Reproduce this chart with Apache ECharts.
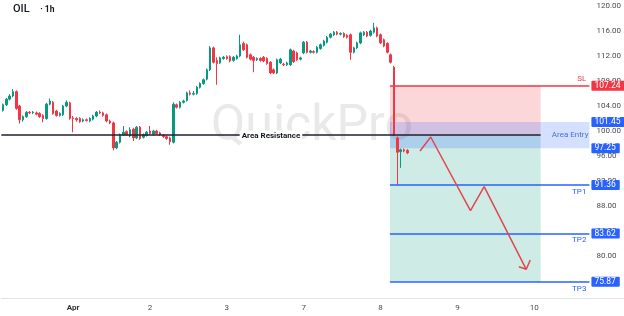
<!DOCTYPE html>
<html><head><meta charset="utf-8">
<script src="https://cdn.jsdelivr.net/npm/echarts@6.0.0/dist/echarts.min.js"></script>
<style>html,body{margin:0;padding:0;background:#fff;}#c{width:624px;height:316px;}</style>
</head><body><div id="c"></div>
<script>
// ---- data ----
const dayLabels = ['Apr','2','3','7','8','9','10'];
const dayLabelSlots = [21,44,67,90,113,136,159];
const slotCount = 176;

const open = [103.3,104.2,105.1,105.6,106.3,104.0,101.8,102.3,103.0,102.9,
102.9,102.8,102.5,102.0,104.3,104.6,103.2,102.5,102.6,104.0,
104.5,102.1,102.0,102.0,101.6,101.8,101.6,101.9,102.4,103.0,
102.9,102.6,101.6,101.3,97.3,98.2,99.4,99.9,99.2,100.3,
98.9,100.6,99.0,99.3,100.0,99.5,100.0,99.7,99.3,99.1,
98.9,98.2,104.2,103.8,104.6,104.9,106.1,105.9,106.0,107.0,
107.6,108.3,109.8,113.3,111.3,110.9,111.6,111.9,111.9,111.3,
111.6,112.0,114.0,113.8,112.2,111.8,111.4,111.6,111.8,111.6,
111.0,109.8,109.3,110.9,110.7,110.6,110.6,112.8,112.5,111.5,
112.5,114.2,112.6,112.7,112.6,113.2,113.7,114.2,115.0,115.4,
115.8,115.5,115.6,115.3,115.4,112.6,113.3,114.1,115.4,115.8,
115.3,115.8,116.5,115.4,114.6,114.0,112.2,110.2,98.9,96.7,
97.0,96.9];
const close = [104.2,105.1,105.6,106.3,103.6,101.8,102.3,103.0,102.9,103.0,
102.7,102.3,102.0,104.3,104.8,102.8,102.5,102.8,104.0,104.6,
102.0,102.0,101.8,101.5,101.8,101.7,102.0,102.4,103.0,102.9,
102.5,101.6,101.3,97.3,98.2,99.4,99.8,99.4,100.2,98.9,
100.6,98.8,99.4,99.8,99.6,100.0,99.6,99.4,99.1,98.8,
98.3,104.3,103.8,104.6,104.8,106.1,105.9,106.0,107.0,107.6,
108.2,109.8,113.3,111.0,110.8,111.7,111.8,111.6,111.2,111.8,
112.0,113.8,113.0,111.8,111.5,111.3,111.6,111.3,111.2,110.8,
109.3,109.3,111.4,111.5,110.6,110.9,113.0,111.1,111.4,111.7,
114.2,112.6,112.8,112.6,113.4,113.8,114.4,115.0,115.5,115.8,
115.5,115.6,115.1,115.0,112.6,113.3,114.1,115.7,115.8,115.2,
116.0,116.5,115.2,114.1,113.6,112.6,111.0,99.4,96.6,97.0,
96.8,96.5];
const low = [103.1,104.0,104.9,105.4,103.4,101.2,101.5,102.1,102.7,102.7,
102.5,102.1,101.4,101.8,104.1,102.6,102.3,102.3,102.4,103.8,
101.8,99.8,101.5,101.3,101.4,101.5,101.4,101.7,102.2,102.7,
102.3,101.4,101.1,96.9,97.1,98.0,99.2,99.2,99.0,98.4,
98.7,98.6,98.8,99.1,99.4,99.3,99.4,99.2,98.9,98.6,
97.8,98.0,103.6,103.6,104.4,104.7,105.7,105.7,105.8,106.8,
107.4,108.1,109.6,110.8,107.4,110.7,111.4,111.4,111.0,111.1,
111.4,111.8,112.8,111.6,111.3,109.4,111.2,111.1,111.0,110.6,
109.1,109.1,109.1,110.7,110.4,110.4,110.4,110.9,111.2,111.3,
112.3,112.4,112.4,112.4,112.4,113.0,113.5,114.0,114.8,115.2,
115.3,115.3,114.9,114.8,111.4,112.4,113.1,113.9,115.2,115.0,
115.1,115.6,115.0,113.9,113.4,112.4,110.8,99.2,91.4,94.1,
96.6,96.3];
const high = [104.4,105.3,105.9,106.7,106.5,104.2,102.5,103.2,103.2,103.2,
103.1,103.0,102.7,104.5,105.2,104.8,103.4,103.0,104.2,104.9,
104.7,102.4,102.2,102.2,102.0,102.0,102.2,102.6,103.2,103.3,
103.1,102.8,101.8,101.5,98.4,99.6,100.8,100.1,100.6,100.5,
100.8,100.8,99.6,100.0,100.8,100.2,100.2,99.9,99.5,99.3,
99.1,104.6,104.4,104.8,105.0,106.3,106.5,106.4,107.2,107.8,
108.4,110.0,113.6,113.5,111.8,111.9,112.0,112.1,112.1,112.0,
112.2,115.4,114.3,114.0,112.4,112.0,111.8,111.8,112.0,111.8,
111.2,110.0,111.6,111.7,110.9,111.1,113.2,113.0,112.7,111.9,
114.4,114.4,113.0,112.9,113.6,114.0,114.6,115.2,115.7,116.0,
116.0,115.8,115.8,115.5,115.6,113.5,114.3,115.9,116.0,116.0,
116.2,117.3,116.7,115.6,114.8,114.2,112.4,110.4,99.1,97.2,
97.2,97.1];

const yMin = 72, yMax = 120.96, yInterval = 4;
const resistanceLevel = 99.35;
const entryLevel = 99.35;
const slLevel = 107.24;
const entryTop = 101.45, entryBottom = 97.25;
const tpLevels = [91.36, 83.62, 75.87];
const tpNames = ['TP1','TP2','TP3'];
const zoneStartSlot = 116.3, zoneEndSlot = 161.4;
const arrowX = [125.3,128.5,140.4,144.5,157.1];
const arrowY = [96.8,99.04,87.25,91.09,77.87];
const arrowHeadX = [154.9,157.1,158.3];
const arrowHeadY = [78.29,77.87,79.36];

// ---- build ----
const cats = Array.from({length: slotCount}, () => '');
dayLabelSlots.forEach((s, k) => { cats[s] = dayLabels[k]; });
const candles = open.map((o, i) => [o, close[i], low[i], high[i]]);

const UP = '#089981', DOWN = '#f23645', BLUE = '#2962ff', FONT = 'Roboto, "Noto Sans", sans-serif';

function seg(x1, x2, y, lineStyle, label) {
  return [{coord: [x1, y], lineStyle: lineStyle, label: label}, {coord: [x2, y]}];
}
function box(y, bg) {
  return seg(zoneStartSlot, slotCount, y, {color: 'rgba(0,0,0,0)', width: 1}, {
    show: true, position: 'end', distance: 2, formatter: y.toFixed(2),
    color: '#fff', backgroundColor: bg, fontSize: 8.5, fontFamily: FONT,
    padding: [1, 4, 0, 3], borderRadius: 1
  });
}

const lines = [];
lines.push(seg(0, zoneEndSlot, resistanceLevel, {color: '#1e222d', width: 1.5, type: 'solid'}, {
  show: true, position: 'middle', distance: -5.5, formatter: 'Area Resistance', color: '#131722',
  fontWeight: 'bold', fontSize: 8, fontFamily: FONT, backgroundColor: '#fff', padding: [1, 2]
}));
lines.push(seg(zoneStartSlot, slotCount, slLevel, {color: DOWN, width: 1.5, type: 'solid'}, {
  show: true, position: 'insideEndTop', formatter: 'SL', color: DOWN, fontSize: 8, fontFamily: FONT, distance: 3
}));
tpLevels.forEach((v, k) => {
  lines.push(seg(zoneStartSlot, slotCount, v, {color: BLUE, width: 1.5, type: 'solid'}, {
    show: true, position: 'insideEndBottom', formatter: tpNames[k], color: BLUE, fontSize: 8, fontFamily: FONT, distance: 3
  }));
});
lines.push(box(slLevel, DOWN));
lines.push(box(entryTop, BLUE));
lines.push(box(entryBottom, BLUE));
tpLevels.forEach(v => lines.push(box(v, BLUE)));

const chart = echarts.init(document.getElementById('c'), null, {renderer: 'canvas'});
chart.setOption({
  animation: false,
  backgroundColor: '#fff',
  title: {
    left: 13, top: 4, padding: 0,
    text: '{a|OIL}{b|     · 1h}',
    textStyle: {rich: {
      a: {fontSize: 11, color: '#131722', fontFamily: FONT, fontWeight: 500},
      b: {fontSize: 8.5, color: '#131722', fontFamily: FONT}
    }}
  },
  graphic: [
    {type: 'text', z: -10, left: 'center', top: 102, style: {text: 'QuickPro', fontSize: 50, fontFamily: FONT, fill: '#e9e9e9'}},
    {type: 'line', z: 10, shape: {x1: 590, y1: 298.5, x2: 624, y2: 298.5}, style: {stroke: '#e0e3eb', lineWidth: 1}}
  ],
  grid: {left: 0, right: 34, top: 0, bottom: 10, containLabel: false},
  xAxis: [
    {type: 'category', data: cats, boundaryGap: true, offset: -8,
     axisLine: {lineStyle: {color: '#e0e3eb'}}, axisTick: {show: false}, splitLine: {show: false},
     axisLabel: {interval: 0, margin: 6, color: '#4a4a4a', fontSize: 8, fontFamily: FONT,
       formatter: v => v === 'Apr' ? '{m|Apr}' : v,
       rich: {m: {fontWeight: 'bold', fontSize: 8, color: '#333', fontFamily: FONT}}}},
    {type: 'value', min: 0, max: slotCount, show: false}
  ],
  yAxis: {type: 'value', position: 'right', min: yMin, max: yMax, interval: yInterval, scale: true,
    axisLine: {show: false}, axisTick: {show: false}, splitLine: {show: false},
    axisLabel: {margin: 7, color: '#4a4a4a', fontSize: 8, fontFamily: FONT,
      formatter: v => (Math.abs(v / 4 - Math.round(v / 4)) < 1e-6 && v > 74) ? v.toFixed(2) : ''}},
  series: [
    {type: 'line', xAxisIndex: 1, data: [], z: 1, silent: true,
     markArea: {silent: true, data: [
       [{coord: [zoneStartSlot, entryLevel], itemStyle: {color: 'rgba(8,153,129,0.2)'}}, {coord: [zoneEndSlot, tpLevels[2]]}],
       [{coord: [zoneStartSlot, slLevel], itemStyle: {color: 'rgba(242,54,69,0.2)'}}, {coord: [zoneEndSlot, entryLevel]}],
       [{coord: [zoneStartSlot, entryTop], itemStyle: {color: 'rgba(41,98,255,0.2)'},
         label: {show: true, position: 'insideRight', distance: 1, formatter: 'Area Entry', color: '#4a6ee0', fontSize: 8, fontFamily: FONT}},
        {coord: [slotCount, entryBottom]}]
     ]}},
    {type: 'candlestick', xAxisIndex: 0, data: candles, barWidth: 2, z: 3,
     itemStyle: {color: UP, color0: DOWN, borderColor: UP, borderColor0: DOWN, borderWidth: 1}},
    {type: 'line', xAxisIndex: 1, data: [], z: 4, silent: true,
     markLine: {silent: true, symbol: ['none', 'none'], data: lines}},
    {type: 'line', xAxisIndex: 1, z: 5, symbol: 'none', silent: true,
     data: arrowX.map((x, i) => [x, arrowY[i]]), lineStyle: {color: '#e2464f', width: 1.5}},
    {type: 'line', xAxisIndex: 1, z: 5, symbol: 'none', silent: true,
     data: arrowHeadX.map((x, i) => [x, arrowHeadY[i]]), lineStyle: {color: '#e2464f', width: 1.5}}
  ]
});
</script></body></html>
